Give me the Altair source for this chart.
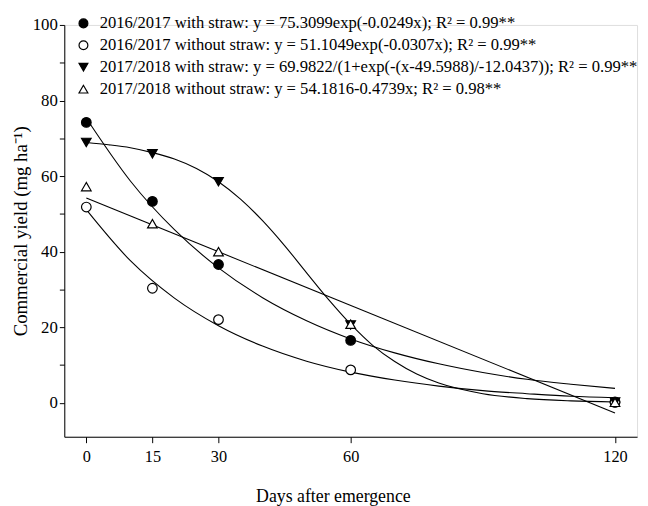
import altair as alt
import pandas as pd

series = [
    "2016/2017 with straw: y = 75.3099exp(-0.0249x); R² = 0.99**",
    "2016/2017 without straw: y = 51.1049exp(-0.0307x); R² = 0.99**",
    "2017/2018 with straw: y = 69.9822/(1+exp(-(x-49.5988)/-12.0437)); R² = 0.99**",
    "2017/2018 without straw: y = 54.1816-0.4739x; R² = 0.98**",
]
shapes = ["circle", "circle", "triangle-down", "triangle-up"]
fills = ["black", "white", "black", "white"]
strokes = ["black", "black", "black", "black"]

# observed points
days = [0, 15, 30, 60, 120]
obs_with_1617 = [74.2, 53.3, 36.6, 16.5, 0.2]
obs_without_1617 = [51.8, 30.3, 22.0, 8.7, 0.1]
obs_with_1718 = [68.9, 65.9, 58.5, 20.6, 0.2]
obs_without_1718 = [57.2, 47.4, 40.0, 20.8, 0.1]

# fitted curves
curve_x_exp = [0, 10, 20, 30, 40, 50, 60, 70, 80, 90, 100, 110, 120]
fit_with_1617 = [75.3, 58.7, 45.8, 35.7, 27.8, 21.7, 16.9, 13.2, 10.3, 8.0, 6.2, 4.9, 3.8]
fit_without_1617 = [51.1, 37.6, 27.7, 20.4, 15.0, 11.0, 8.1, 6.0, 4.4, 3.2, 2.4, 1.7, 1.3]
curve_x_sig = [0, 5, 10, 15, 20, 25, 30, 35, 40, 45, 50, 55, 60, 65, 70, 75, 80, 90, 100, 110, 120]
fit_with_1718 = [68.9, 68.3, 67.5, 66.2, 64.5, 62.0, 58.5, 53.9, 48.2, 41.6, 34.4, 27.3,
                 20.8, 15.2, 10.9, 7.6, 5.2, 2.4, 1.1, 0.5, 0.2]
curve_x_lin = [0, 120]
fit_without_1718 = [54.2, -2.7]

obs_rows = []
for s, vals in zip(series, [obs_with_1617, obs_without_1617, obs_with_1718, obs_without_1718]):
    for d, v in zip(days, vals):
        obs_rows.append({"series": s, "day": d, "yield": v})
obs = pd.DataFrame(obs_rows)

curve_rows = []
for s, xs, vals in zip(series,
                       [curve_x_exp, curve_x_exp, curve_x_sig, curve_x_lin],
                       [fit_with_1617, fit_without_1617, fit_with_1718, fit_without_1718]):
    for d, v in zip(xs, vals):
        curve_rows.append({"series": s, "day": d, "yield": v})
curves = pd.DataFrame(curve_rows)

FONT = "Liberation Serif"

xscale = alt.Scale(domain=[-5, 125], nice=False, zero=False)
yscale = alt.Scale(domain=[-9, 100], nice=False, zero=False)

xaxis = alt.Axis(values=days, title="Days after emergence", grid=False,
                 tickSize=6, labelPadding=6, labelFont=FONT, labelFontSize=16.5,
                 titleFont=FONT, titleFontSize=18, titleFontWeight="normal",
                 titleX=272, titleY=66, titleBaseline="alphabetic",
                 domainColor="black", tickColor="black", labelColor="black", titleColor="black")
yaxis = alt.Axis(values=list(range(0, 101, 10)), labelExpr="datum.value % 20 == 0 ? datum.label : ''",
                 title="Commercial yield (mg ha⁻¹)", grid=False,
                 tickSize=5, labelPadding=2, labelFont=FONT, labelFontSize=17,
                 titleFont=FONT, titleFontSize=19, titleFontWeight="normal", titlePadding=2,
                 domainColor="black", tickColor="black", labelColor="black", titleColor="black")

lines = alt.Chart(curves).mark_line(color="black", strokeWidth=1.1, interpolate="monotone").encode(
    x=alt.X("day:Q", scale=xscale, axis=xaxis),
    y=alt.Y("yield:Q", scale=yscale, axis=yaxis),
    detail="series:N",
)

legend = alt.Legend(orient="none", legendX=11, legendY=-10, title=None,
                    labelFont=FONT, labelFontSize=16.8, labelColor="black", labelLimit=700,
                    symbolSize=80, symbolStrokeWidth=1.2,
                    rowPadding=4.2, labelOffset=8, padding=0)

points = alt.Chart(obs).mark_point(filled=True, strokeWidth=1.2, opacity=1, size=95).encode(
    x=alt.X("day:Q", scale=xscale, axis=xaxis),
    y=alt.Y("yield:Q", scale=yscale, axis=yaxis),
    shape=alt.Shape("series:N", scale=alt.Scale(domain=series, range=shapes), legend=legend, sort=series),
    fill=alt.Fill("series:N", scale=alt.Scale(domain=series, range=fills), legend=legend, sort=series),
    stroke=alt.Stroke("series:N", scale=alt.Scale(domain=series, range=strokes), legend=legend, sort=series),
)

chart = alt.layer(lines, points).properties(
    width=580, height=417,
    padding={"left": 3, "top": 4, "right": 2, "bottom": 0},
).configure_view(stroke=None).configure(background="white")

chart.save("out.html", embed_options={"renderer": "svg", "actions": False})
